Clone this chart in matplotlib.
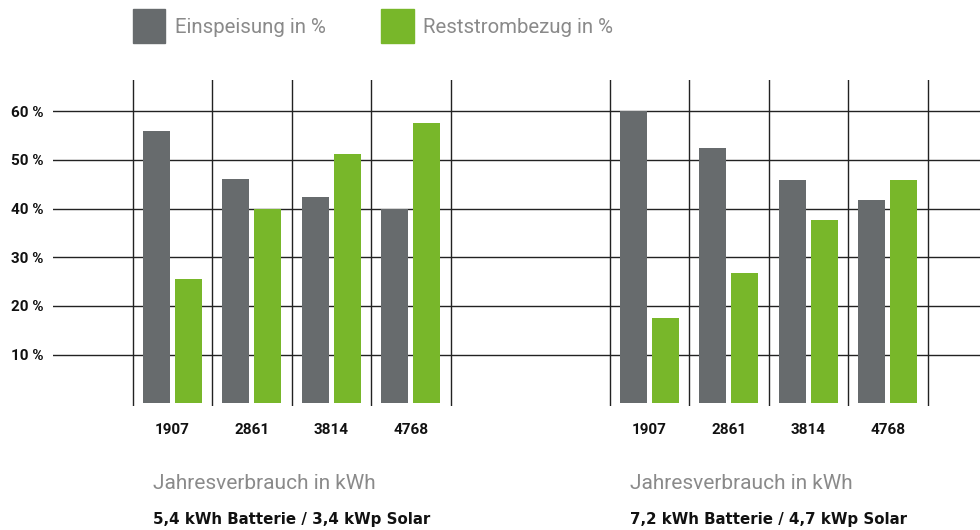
import numpy as np
import matplotlib
matplotlib.use("Agg")
import matplotlib.pyplot as plt
import matplotlib.transforms as mtransforms

plt.rcParams['font.family'] = ['Roboto', 'DejaVu Sans']

categories = ["1907", "2861", "3814", "4768"]
einspeisung_left = [56, 46, 42.4, 40]
reststrom_left = [25.5, 40, 51.2, 57.6]
einspeisung_right = [60, 52.5, 45.9, 41.8]
reststrom_right = [17.5, 26.8, 37.7, 45.9]
yticks = [10, 20, 30, 40, 50, 60]
ytick_labels = ["10 %", "20 %", "30 %", "40 %", "50 %", "60 %"]
legend_labels = ["Einspeisung in %", "Reststrombezug in %"]
xlabel = "Jahresverbrauch in kWh"
subtitles = ["5,4 kWh Batterie / 3,4 kWp Solar", "7,2 kWh Batterie / 4,7 kWp Solar"]

gray = "#676b6d"
green = "#78b72a"
light_text = "#8a8a8a"

W, H = 980, 530
fig = plt.figure(figsize=(W / 100, H / 100), dpi=100)

def fx(px):
    return px / W

def fy(py):
    return 1 - py / H

# axes from x=53 to 980 px, y=80 to 405.7 px
ax = fig.add_axes([fx(53), fy(405.7), fx(980 - 53), (405.7 - 80) / H])
ax.set_xlim(-1.0, 10.66)
ax.set_ylim(-0.5, 66.4)

offsets = [0, 6]
bw, gap, lead = 0.34, 0.063, 0.13
series = [(einspeisung_left, reststrom_left), (einspeisung_right, reststrom_right)]
for off, (e_vals, r_vals) in zip(offsets, series):
    x0 = np.arange(len(categories)) + off
    ax.bar(x0 + lead, e_vals, width=bw, align="edge", color=gray, zorder=3)
    ax.bar(x0 + lead + bw + gap, r_vals, width=bw, align="edge", color=green, zorder=3)
    for xv in np.arange(len(categories) + 1) + off:
        ax.axvline(xv, color="#222222", lw=1.0, zorder=1)
    trans = mtransforms.blended_transform_factory(ax.transData, fig.transFigure)
    for xc, lab in zip(x0 + 0.5, categories):
        ax.text(xc, fy(434.3), lab, transform=trans, ha="center", va="baseline",
                fontsize=11, fontweight="bold", color="#111111")

for yv in yticks:
    ax.axhline(yv, color="#222222", lw=1.0, zorder=1)

ax.set_yticks(yticks)
ax.set_yticklabels(ytick_labels, fontsize=11, fontweight="bold", color="#111111")
ax.tick_params(axis="y", length=0, pad=7)
ax.set_xticks([])
for s in ax.spines.values():
    s.set_visible(False)
ax.patch.set_alpha(0)

# legend
for (sx, col, lab) in [(132.7, gray, legend_labels[0]), (381, green, legend_labels[1])]:
    fig.patches.append(plt.Rectangle((fx(sx), fy(43)), fx(32.5), 34 / H,
                                     transform=fig.transFigure, color=col))
    fig.text(fx(sx + 42), fy(33.3), lab, ha="left", va="baseline",
             fontsize=14.7, fontweight="normal", color=light_text)

for tx, sub in zip([153, 630], subtitles):
    fig.text(fx(tx), fy(489), xlabel, ha="left", va="baseline",
             fontsize=15, fontweight="normal", color=light_text)
    fig.text(fx(tx), fy(524), sub, ha="left", va="baseline",
             fontsize=10.8, fontweight="bold", color="#111111",
             family=["DejaVu Sans"])

fig.savefig("out.png", dpi=100)
